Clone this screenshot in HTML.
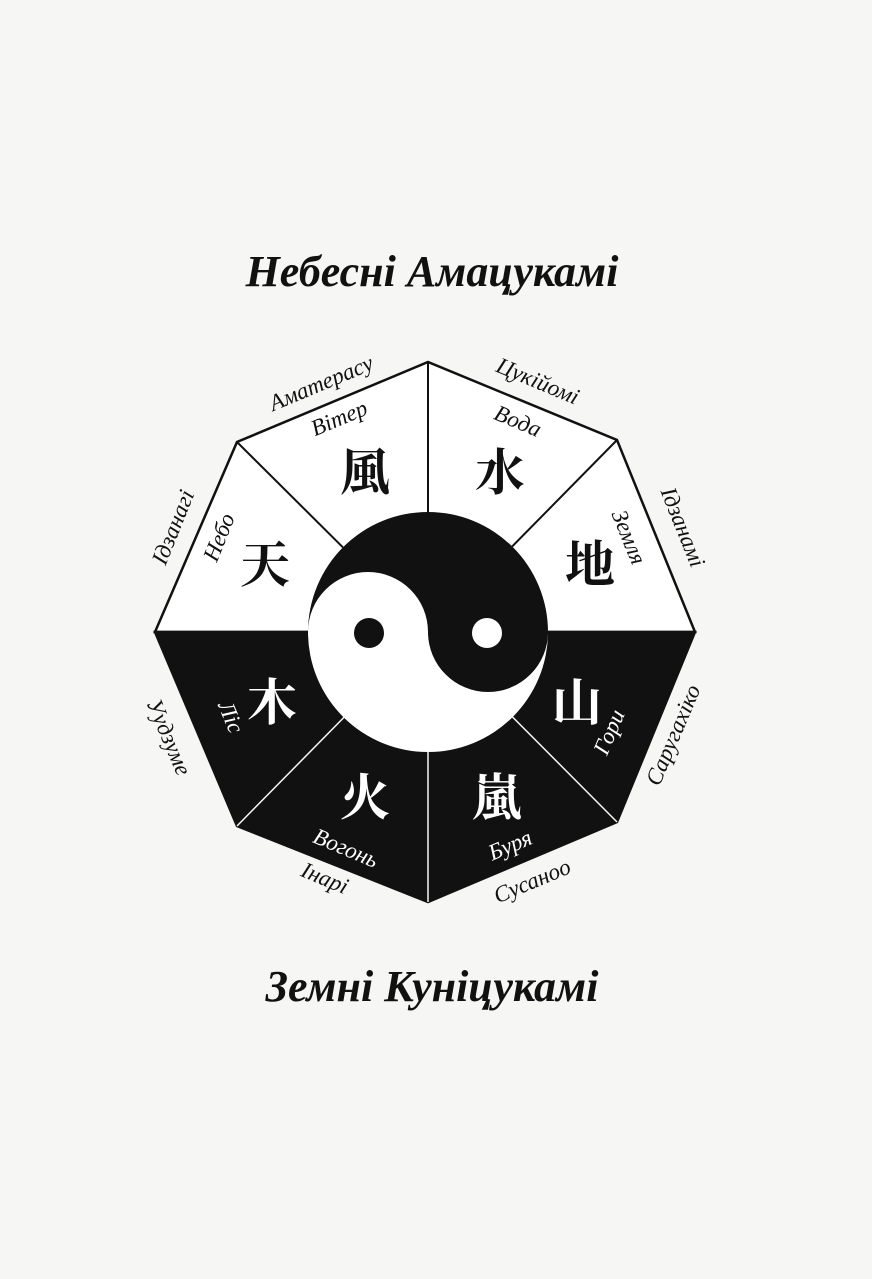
<!DOCTYPE html>
<html><head><meta charset="utf-8"><style>
html,body{margin:0;padding:0;background:#f6f6f4;}
svg{display:block}
text{font-family:"Liberation Serif",serif;font-style:italic;}
.cj{font-family:"Noto Serif CJK SC","Noto Sans CJK SC",serif;font-style:normal;font-size:50px;font-weight:bold;text-anchor:middle;}
.l{font-size:23px;text-anchor:middle;}
</style></head><body>
<svg width="872" height="1279" viewBox="0 0 872 1279">
<rect width="872" height="1279" fill="#f6f6f4"/>
<text x="432" y="286" font-size="44" font-weight="bold" text-anchor="middle" fill="#111">Небесні Амацукамі</text>
<text x="432" y="1001" font-size="44" font-weight="bold" text-anchor="middle" fill="#111">Земні Куніцукамі</text>
<polygon points="155,632 237,442 428,362 617,440 695,632" fill="#fff" stroke="#111" stroke-width="2.5"/>
<polygon points="155,632 237,826 428,902 617,822 695,632" fill="#111" stroke="#111" stroke-width="2.5"/>
<g stroke="#111" stroke-width="2">
<line x1="428" y1="632" x2="237" y2="442"/><line x1="428" y1="632" x2="428" y2="362"/><line x1="428" y1="632" x2="617" y2="440"/>
</g>
<g stroke="#f6f6f4" stroke-width="1.5">
<line x1="428" y1="632" x2="237" y2="826"/><line x1="428" y1="632" x2="428" y2="902"/><line x1="428" y1="632" x2="617" y2="822"/>
</g>
<circle cx="428" cy="632" r="120" fill="#fff"/>
<path d="M308,632 A120,120 0 0 1 548,632 A60,60 0 0 1 428,632 A60,60 0 0 0 308,632 Z" fill="#111"/>
<circle cx="369" cy="633" r="15" fill="#111"/>
<circle cx="487" cy="633" r="15" fill="#fff"/>
<text class="cj" x="365" y="490" fill="#111">風</text>
<text class="cj" x="500" y="490" fill="#111">水</text>
<text class="cj" x="265" y="582" fill="#111">天</text>
<text class="cj" x="590" y="582" fill="#111">地</text>
<text class="cj" x="272" y="720" fill="#fff">木</text>
<text class="cj" x="577" y="720" fill="#fff">山</text>
<text class="cj" x="365" y="815" fill="#fff">火</text>
<text class="cj" x="497" y="815" fill="#fff">嵐</text>
<g fill="#111">
<text class="l" transform="translate(324,390) rotate(-22.7)">Аматерасу</text>
<text class="l" transform="translate(342,425) rotate(-22.7)">Вітер</text>
<text class="l" transform="translate(535,388) rotate(22.7)">Цукійомі</text>
<text class="l" transform="translate(515,428) rotate(22.7)">Вода</text>
<text class="l" transform="translate(676,530) rotate(68)">Ідзанамі</text>
<text class="l" transform="translate(622,540) rotate(68)">Земля</text>
<text class="l" transform="translate(180,530) rotate(-68)">Ідзанагі</text>
<text class="l" transform="translate(226,540) rotate(-68)">Небо</text>
<text class="l" transform="translate(162,740) rotate(67)">Уудзуме</text>
<text class="l" transform="translate(680,738) rotate(-67)">Саругахіко</text>
<text class="l" transform="translate(322,885) rotate(22.7)">Інарі</text>
<text class="l" transform="translate(535,888) rotate(-22.7)">Сусаноо</text>
</g>
<g fill="#fff">
<text class="l" transform="translate(224,720) rotate(67)">Ліс</text>
<text class="l" transform="translate(616,735) rotate(-67)">Гори</text>
<text class="l" transform="translate(343,855) rotate(22.7)">Вогонь</text>
<text class="l" transform="translate(513,852) rotate(-22.7)">Буря</text>
</g>
</svg>
</body></html>
